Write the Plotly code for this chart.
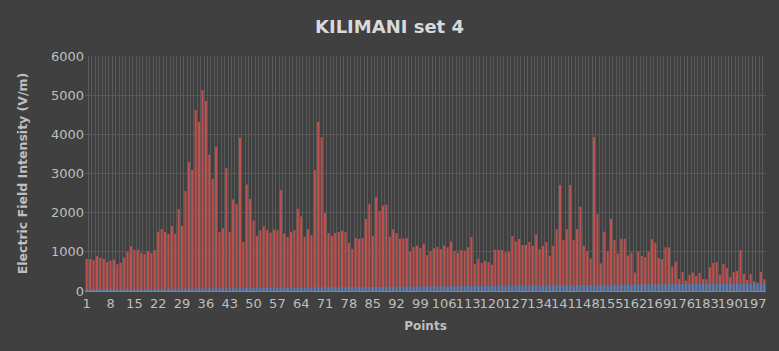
import plotly.graph_objects as go

points = list(range(1, 201))

field = [
    817, 817, 790, 890, 850, 817, 740, 775, 800, 680,
    720, 850, 1000, 1140, 1055, 1055, 970, 950, 1020, 970,
    1045, 1515, 1580, 1505, 1455, 1660, 1465, 2085, 1660, 2550,
    3290, 3090, 4620, 4315, 5130, 4850, 3480, 2860, 3680, 1505,
    1600, 3140, 1505, 2340, 2220, 3915, 1250, 2720, 2350, 1800,
    1405, 1550, 1650, 1550, 1490, 1565, 1550, 2580, 1470, 1380,
    1505, 1550, 2095, 1905, 1385, 1575, 1430, 3090, 4315, 3930,
    1990, 1480, 1405, 1480, 1505, 1540, 1505, 1225, 1070, 1355,
    1330, 1355, 1840, 2220, 1405, 2400, 2045, 2180, 2205, 1385,
    1575, 1480, 1330, 1345, 1355, 1000, 1125, 1160, 1100, 1205,
    910, 1020, 1090, 1125, 1065, 1165, 1115, 1260, 1015, 970,
    1040, 1030, 1115, 1380, 690, 825, 715, 765, 740, 670,
    1055, 1045, 1045, 985, 995, 1405, 1260, 1330, 1175, 1175,
    1250, 1150, 1445, 1070, 1155, 1250, 900, 1155, 1580, 2705,
    1300, 1580, 2705, 1300, 1580, 2155, 1150, 1015, 835, 3930,
    1965, 705, 1515, 1020, 1840, 1300, 955, 1330, 1335, 900,
    980, 470, 995, 895, 860, 995, 1320, 1235, 840, 815,
    1115, 1115, 620, 750, 305, 485, 265, 415, 470, 385,
    460, 300, 300, 605, 715, 740, 410, 690, 585, 355,
    485, 510, 1045, 435, 280, 435, 245, 215, 485, 300,
]

baseline = [
    40, 40, 41, 42, 42, 43, 44, 44, 45, 46,
    46, 47, 48, 48, 49, 50, 50, 51, 52, 53,
    53, 54, 55, 55, 56, 57, 58, 58, 59, 60,
    61, 61, 62, 63, 64, 64, 65, 66, 67, 67,
    68, 69, 70, 70, 71, 72, 73, 74, 74, 75,
    76, 77, 77, 78, 79, 80, 81, 81, 82, 83,
    84, 85, 85, 86, 87, 88, 89, 89, 90, 91,
    92, 93, 93, 94, 95, 96, 97, 97, 98, 99,
    100, 101, 102, 102, 103, 104, 105, 106, 106, 107,
    108, 109, 110, 110, 111, 112, 113, 114, 114, 115,
    116, 117, 118, 118, 119, 120, 121, 122, 122, 123,
    124, 125, 126, 126, 127, 128, 129, 130, 130, 131,
    132, 133, 134, 134, 135, 136, 137, 138, 138, 139,
    140, 141, 142, 142, 143, 144, 145, 146, 146, 147,
    148, 149, 150, 150, 151, 152, 153, 154, 154, 155,
    156, 157, 158, 158, 159, 160, 161, 162, 162, 163,
    164, 165, 166, 166, 167, 168, 169, 170, 170, 171,
    172, 173, 174, 174, 175, 176, 177, 178, 178, 179,
    180, 181, 182, 182, 183, 184, 185, 186, 186, 187,
    188, 189, 190, 190, 191, 192, 193, 194, 194, 195,
]

tick_vals = list(range(1, 201, 7))
tick_text = [str(v) for v in tick_vals]
y_ticks = [0, 1000, 2000, 3000, 4000, 5000, 6000]

fig = go.Figure()
fig.add_trace(go.Bar(x=points, y=field, marker=dict(color="#C0504D", line=dict(width=0)),
                     name="Field"))
fig.add_trace(go.Bar(x=points, y=baseline, marker=dict(color="#4F81BD", line=dict(width=0)),
                     name="Base"))

fig.update_layout(
    width=779, height=351,
    margin=dict(l=85, r=13, t=56, b=60),
    paper_bgcolor="#404040", plot_bgcolor="#404040",
    barmode="overlay", bargap=0.38,
    showlegend=False,
    title=dict(text="<b>KILIMANI set 4</b>", x=0.5, xanchor="center", y=0.923, yanchor="middle",
               font=dict(family="DejaVu Sans", size=18, color="#D9D9D9")),
    font=dict(family="DejaVu Sans", color="#BFBFBF"),
)
fig.update_xaxes(
    range=[0.5, 200.5], tickmode="array", tickvals=tick_vals, ticktext=tick_text,
    tickangle=0, tickfont=dict(size=13, color="#BFBFBF"), showgrid=False,
    minor=dict(tick0=0.5, dtick=1, showgrid=True, gridcolor="#5A5A5A", gridwidth=1),
    showline=True, linecolor="#868686", linewidth=1, zeroline=False, ticks="",
    title=dict(text="<b>Points</b>", font=dict(size=12, color="#BFBFBF"), standoff=12),
)
fig.update_yaxes(
    range=[0, 6000], tickvals=y_ticks, tickfont=dict(size=13, color="#BFBFBF"),
    showgrid=True, gridcolor="#5A5A5A", gridwidth=1, zeroline=False, ticks="",
    title=dict(text="<b>Electric Field Intensity (V/m)</b>", font=dict(size=12.5, color="#BFBFBF"),
               standoff=20),
)

fig.write_html("out.html")
